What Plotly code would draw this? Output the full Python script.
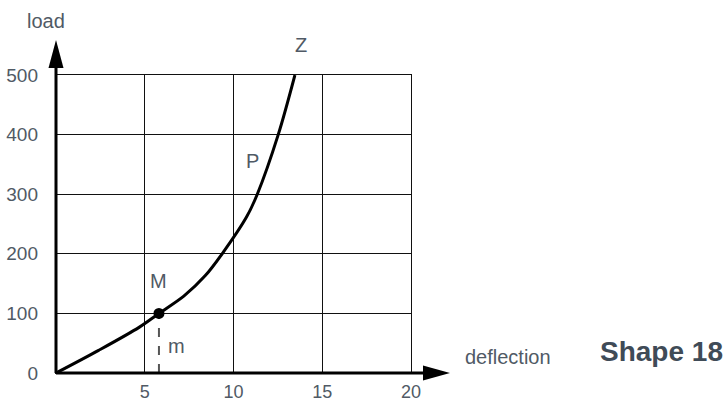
import plotly.graph_objects as go

# ---- data ----
curve_x = [0, 2.4, 4.7, 5.8, 7.2, 8.4, 9.36, 10.74, 11.34, 12.52, 13.46]
curve_y = [0, 38, 77, 100, 129, 163, 200, 262, 300, 400, 500]
point_m = (5.8, 100)
x_ticks = [5, 10, 15, 20]
y_ticks = [0, 100, 200, 300, 400, 500]
labels = [("M", 5.8, 154), ("m", 6.8, 45), ("P", 11.07, 355), ("Z", 13.8, 550)]
x_range = [0, 20]
y_range = [0, 500]

W, H = 728, 403
ML, MR, MT, MB = 56, 317, 75, 30
PW, PH = W - ML - MR, H - MT - MB
FONT = "Liberation Sans, Arial, sans-serif"
TXT = "#505a65"


def px(x):
    return (x - ML) / PW


def py(y):
    return (H - MB - y) / PH


fig = go.Figure()
fig.add_trace(go.Scatter(x=curve_x, y=curve_y, mode="lines",
                         line=dict(color="black", width=3, shape="spline", smoothing=0.9),
                         hoverinfo="skip", showlegend=False))
fig.add_trace(go.Scatter(x=[point_m[0], point_m[0]], y=[0, point_m[1]], mode="lines",
                         line=dict(color="#555555", width=2, dash="dash"),
                         hoverinfo="skip", showlegend=False))
fig.add_trace(go.Scatter(x=[point_m[0]], y=[point_m[1]], mode="markers",
                         marker=dict(color="black", size=11),
                         hoverinfo="skip", showlegend=False))

for t, x, y in labels:
    fig.add_annotation(x=x, xref="x", y=(y - y_range[0]) / (y_range[1] - y_range[0]), yref="paper",
                       text=t, showarrow=False, xanchor="center", yanchor="middle",
                       font=dict(family=FONT, size=20, color=TXT))

# axes lines + arrowheads (decoration)
fig.add_shape(type="line", xref="paper", yref="paper", x0=0, y0=0, x1=0, y1=py(60),
              line=dict(color="black", width=3))
fig.add_shape(type="line", xref="paper", yref="paper", x0=0, y0=0, x1=px(430), y1=0,
              line=dict(color="black", width=3))
fig.add_shape(type="path", xref="paper", yref="paper",
              path=f"M {px(56)} {py(40)} L {px(48.5)} {py(68)} L {px(63.5)} {py(68)} Z",
              fillcolor="black", line=dict(color="black", width=0))
fig.add_shape(type="path", xref="paper", yref="paper",
              path=f"M {px(450)} {py(373)} L {px(423)} {py(365.5)} L {px(423)} {py(380.5)} Z",
              fillcolor="black", line=dict(color="black", width=0))

for text, cx, cy, size, col in [("load", 45.5, 21, 20, TXT),
                                ("deflection", 508, 357, 20, TXT),
                                ("<b>Shape 18</b>", 661, 351, 28, "#3f4b57")]:
    fig.add_annotation(xref="paper", yref="paper", x=px(cx), y=py(cy), text=text,
                       showarrow=False, xanchor="center", yanchor="middle",
                       font=dict(family=FONT, size=size, color=col))

axis_common = dict(showgrid=True, gridcolor="#111111", gridwidth=1.4, zeroline=False,
                   showline=True, mirror=True, linecolor="#111111", linewidth=1.4,
                   ticks="", automargin=False, fixedrange=True)
fig.update_xaxes(range=x_range, tickvals=x_ticks, ticklabelstandoff=2,
                 tickfont=dict(family=FONT, size=18, color=TXT), **axis_common)
fig.update_yaxes(range=y_range, tickvals=y_ticks, ticklabelstandoff=13,
                 tickfont=dict(family=FONT, size=19, color=TXT), **axis_common)

fig.update_layout(width=W, height=H, margin=dict(l=ML, r=MR, t=MT, b=MB, autoexpand=False),
                  plot_bgcolor="white", paper_bgcolor="white", showlegend=False)

fig.write_html("out.html", config={"displayModeBar": False},
               post_script="document.body.style.margin='0';document.body.style.overflow='hidden';")
